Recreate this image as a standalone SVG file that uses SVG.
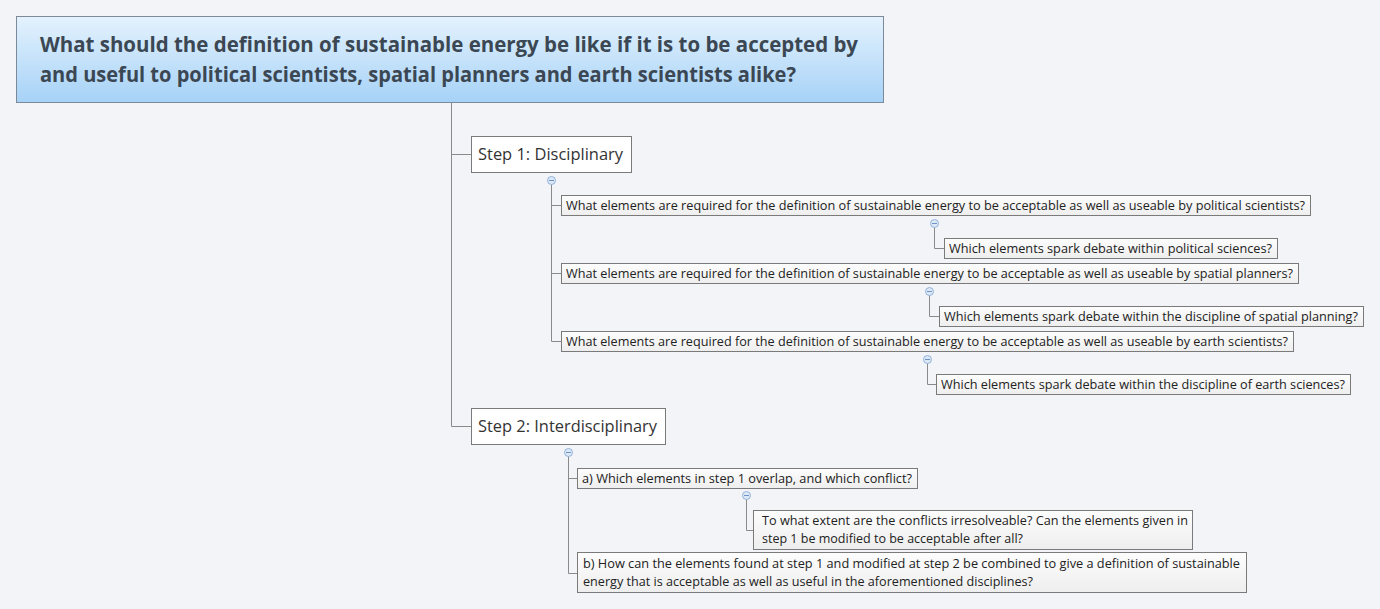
<svg xmlns="http://www.w3.org/2000/svg" width="1380" height="609" viewBox="0 0 1380 609">
<defs>
<linearGradient id="rootg" x1="0" y1="0" x2="0" y2="1">
<stop offset="0" stop-color="#e4f2fd"/>
<stop offset="1" stop-color="#a6d2f7"/>
</linearGradient>
<linearGradient id="subg" x1="0" y1="0" x2="0" y2="1">
<stop offset="0" stop-color="#fdfdfd"/>
<stop offset="1" stop-color="#eeeeee"/>
</linearGradient>
</defs>
<style>
.bg{fill:#f2f4f8}
.root{fill:url(#rootg);stroke:#7b8998;stroke-width:1}
.rt{font-family:"Open Sans","Noto Sans",sans-serif;font-weight:bold;font-size:20.5px;fill:#3b4753}
.step{fill:#ffffff;stroke:#7a7a7a;stroke-width:1}
.st{font-family:"Open Sans","Noto Sans",sans-serif;font-size:17px;fill:#333333}
.sub{fill:url(#subg);stroke:#7a7a7a;stroke-width:1}
.t{font-family:"Open Sans","Noto Sans",sans-serif;font-size:12.5px;fill:#222222}
.ln{fill:none;stroke:#8a8a8a;stroke-width:1}
.ic circle{fill:#dce8f6;stroke:#93b4dc;stroke-width:1}
.ic line{stroke:#6f93c4;stroke-width:1}
</style>
<rect class="bg" x="0" y="0" width="1380" height="609"/>
<g id="connectors">
<path class="ln" d="M451.5,102 V426.5 H471 M451.5,154.5 H471"/>
<path class="ln" d="M551.5,184 V341.5 H561 M551.5,205.5 H561 M551.5,273.5 H561"/>
<path class="ln" d="M934.5,227 V248.5 H944"/>
<path class="ln" d="M929.5,295 V316.5 H939"/>
<path class="ln" d="M927.5,363 V384.5 H936"/>
<path class="ln" d="M568.5,456 V573.5 H577 M568.5,478.5 H577"/>
<path class="ln" d="M746.5,499 V530.5 H753"/>
</g>
<g id="root">
<rect class="root" x="16.5" y="16.5" width="867" height="86"/>
<text class="rt" x="40" y="52" textLength="818" lengthAdjust="spacingAndGlyphs">What should the definition of sustainable energy be like if it is to be accepted by</text>
<text class="rt" x="40" y="82" textLength="756" lengthAdjust="spacingAndGlyphs">and useful to political scientists, spatial planners and earth scientists alike?</text>
</g>
<g id="step1">
<rect class="step" x="471.5" y="136.5" width="160" height="36"/>
<text class="st" x="478" y="160" textLength="145" lengthAdjust="spacingAndGlyphs">Step 1: Disciplinary</text>
<g class="ic"><circle cx="551.5" cy="180.5" r="4"/><line x1="549" y1="180.5" x2="554" y2="180.5"/></g>
</g>
<g id="c1">
<rect class="sub" x="561.5" y="195.5" width="749" height="20"/>
<text class="t" x="566" y="210" textLength="739" lengthAdjust="spacingAndGlyphs">What elements are required for the definition of sustainable energy to be acceptable as well as useable by political scientists?</text>
<g class="ic"><circle cx="934.5" cy="223.5" r="4"/><line x1="932" y1="223.5" x2="937" y2="223.5"/></g>
</g>
<g id="s1">
<rect class="sub" x="944.5" y="238.5" width="333" height="20"/>
<text class="t" x="949" y="253" textLength="323" lengthAdjust="spacingAndGlyphs">Which elements spark debate within political sciences?</text>
</g>
<g id="c2">
<rect class="sub" x="561.5" y="263.5" width="737" height="20"/>
<text class="t" x="566" y="278" textLength="727" lengthAdjust="spacingAndGlyphs">What elements are required for the definition of sustainable energy to be acceptable as well as useable by spatial planners?</text>
<g class="ic"><circle cx="929.5" cy="291.5" r="4"/><line x1="927" y1="291.5" x2="932" y2="291.5"/></g>
</g>
<g id="s2">
<rect class="sub" x="939.5" y="306.5" width="424" height="20"/>
<text class="t" x="944" y="321" textLength="414" lengthAdjust="spacingAndGlyphs">Which elements spark debate within the discipline of spatial planning?</text>
</g>
<g id="c3">
<rect class="sub" x="561.5" y="331.5" width="732" height="20"/>
<text class="t" x="566" y="346" textLength="722" lengthAdjust="spacingAndGlyphs">What elements are required for the definition of sustainable energy to be acceptable as well as useable by earth scientists?</text>
<g class="ic"><circle cx="927.5" cy="359.5" r="4"/><line x1="925" y1="359.5" x2="930" y2="359.5"/></g>
</g>
<g id="s3">
<rect class="sub" x="936.5" y="374.5" width="414" height="20"/>
<text class="t" x="941" y="389" textLength="404" lengthAdjust="spacingAndGlyphs">Which elements spark debate within the discipline of earth sciences?</text>
</g>
<g id="step2">
<rect class="step" x="471.5" y="408.5" width="194" height="36"/>
<text class="st" x="478" y="432" textLength="179" lengthAdjust="spacingAndGlyphs">Step 2: Interdisciplinary</text>
<g class="ic"><circle cx="568.5" cy="452.5" r="4"/><line x1="566" y1="452.5" x2="571" y2="452.5"/></g>
</g>
<g id="a">
<rect class="sub" x="577.5" y="468.5" width="340" height="20"/>
<text class="t" x="582" y="483" textLength="330" lengthAdjust="spacingAndGlyphs">a) Which elements in step 1 overlap, and which conflict?</text>
<g class="ic"><circle cx="746.5" cy="495.5" r="4"/><line x1="744" y1="495.5" x2="749" y2="495.5"/></g>
</g>
<g id="a1">
<rect class="sub" x="753.5" y="510.5" width="439" height="39"/>
<text class="t" x="762" y="525" textLength="426" lengthAdjust="spacingAndGlyphs">To what extent are the conflicts irresolveable? Can the elements given in</text>
<text class="t" x="762" y="543" textLength="261" lengthAdjust="spacingAndGlyphs">step 1 be modified to be acceptable after all?</text>
</g>
<g id="b">
<rect class="sub" x="577.5" y="552.5" width="669" height="40"/>
<text class="t" x="583" y="568" textLength="657" lengthAdjust="spacingAndGlyphs">b) How can the elements found at step 1 and modified at step 2 be combined to give a definition of sustainable</text>
<text class="t" x="583" y="586" textLength="450" lengthAdjust="spacingAndGlyphs">energy that is acceptable as well as useful in the aforementioned disciplines?</text>
</g>
</svg>
